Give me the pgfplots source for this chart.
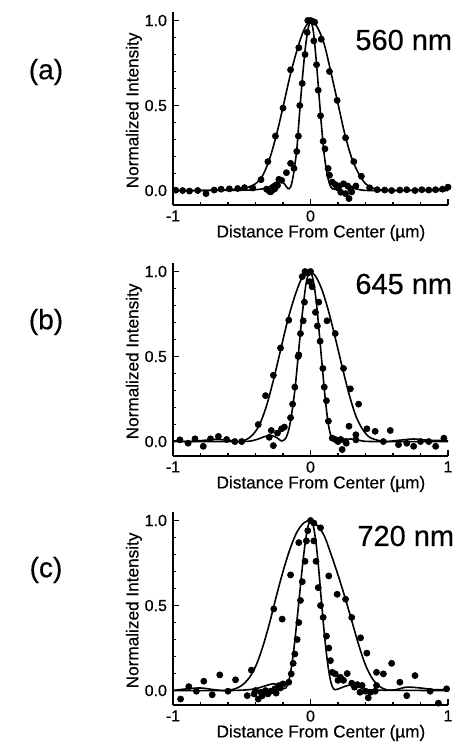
\documentclass[border=0pt]{standalone}
\usepackage{fontspec}
\setmainfont{Liberation Sans}[FakeBold=0.4]
\usepackage{pgfplots}
\pgfplotsset{compat=1.18}
\usepackage{pgfplotstable}

% panel (a) 560 nm
\pgfplotstableread{
x y
-1 0.0
-0.8 0.0
-0.6 0.004
-0.5 0.01
-0.45 0.02
-0.4 0.04
-0.35 0.085
-0.3 0.18
-0.25 0.32
-0.2 0.49
-0.15 0.67
-0.1 0.82
-0.05 0.94
0 1.0
0.05 0.96
0.1 0.86
0.15 0.69
0.2 0.51
0.25 0.33
0.3 0.19
0.35 0.10
0.4 0.04
0.45 0.015
0.5 0.005
0.6 0.0
0.8 0.004
1.0 0.01
}\wideA
\pgfplotstableread{
x y
-1 0.0
-0.5 0.002
-0.4 0.005
-0.35 0.01
-0.3 0.022
-0.26 0.045
-0.22 0.055
-0.19 0.04
-0.165 0.012
-0.145 0.02
-0.125 0.09
-0.1 0.24
-0.08 0.45
-0.06 0.65
-0.04 0.82
-0.02 0.94
0 0.995
0.02 0.94
0.04 0.78
0.06 0.58
0.08 0.38
0.1 0.21
0.12 0.10
0.14 0.035
0.16 0.01
0.19 0.012
0.23 0.03
0.27 0.03
0.31 0.015
0.36 0.005
0.45 0.0
1.0 0.0
}\narrowA
\pgfplotstableread{
x y
-0.98 0.002
-0.93 0.0
-0.88 -0.003
-0.82 0.0
-0.76 -0.018
-0.70 0.003
-0.65 0.008
-0.59 0.01
-0.53 0.012
-0.48 0.017
-0.42 0.015
-0.36 0.064
-0.31 0.17
-0.255 0.32
-0.20 0.485
-0.145 0.71
-0.085 0.84
-0.02 1.0
0.0 1.0
0.015 0.995
0.03 0.99
-0.024 0.93
-0.04 0.80
-0.06 0.63
-0.078 0.50
-0.088 0.32
-0.10 0.23
-0.12 0.13
-0.145 0.16
-0.175 0.105
-0.21 0.06
-0.23 0.066
-0.24 0.03
-0.27 0.02
-0.29 -0.008
-0.30 -0.004
-0.32 0.008
-0.28 0.0
-0.26 0.01
0.024 0.88
0.044 0.74
0.056 0.59
0.073 0.44
0.092 0.29
0.105 0.245
0.128 0.13
0.138 0.09
0.158 0.05
0.18 0.035
0.21 0.027
0.24 0.04
0.27 0.027
0.29 0.012
0.33 0.027
0.255 -0.018
0.28 -0.047
0.30 -0.008
0.20 0.015
0.22 -0.01
0.078 0.89
0.138 0.70
0.194 0.53
0.255 0.31
0.315 0.17
0.37 0.084
0.43 0.016
0.485 0.005
0.54 0.003
0.59 0.0
0.65 0.003
0.70 0.005
0.76 0.0
0.81 0.005
0.86 0.003
0.91 0.005
0.96 0.008
1.0 0.02
}\dotsA

% panel (b) 645 nm
\pgfplotstableread{
x y
-1 0.005
-0.9 0.0
-0.8 0.005
-0.7 0.012
-0.6 0.008
-0.52 0.0
-0.47 0.01
-0.42 0.04
-0.37 0.10
-0.32 0.21
-0.27 0.36
-0.22 0.53
-0.17 0.70
-0.12 0.84
-0.07 0.95
-0.02 1.0
0.03 0.98
0.08 0.90
0.13 0.77
0.18 0.61
0.23 0.44
0.28 0.28
0.33 0.15
0.38 0.07
0.43 0.025
0.5 0.005
0.55 0.0
0.65 0.008
0.75 0.015
0.85 0.008
1.0 0.005
}\wideB
\pgfplotstableread{
x y
-1 0.0
-0.5 0.0
-0.4 0.01
-0.33 0.03
-0.28 0.035
-0.24 0.02
-0.21 0.003
-0.18 0.02
-0.155 0.08
-0.13 0.2
-0.11 0.33
-0.09 0.5
-0.07 0.67
-0.05 0.82
-0.03 0.94
-0.01 0.99
0.01 0.98
0.03 0.90
0.05 0.76
0.07 0.58
0.09 0.40
0.11 0.23
0.13 0.10
0.15 0.03
0.17 0.008
0.2 0.005
0.25 0.012
0.3 0.015
0.35 0.008
0.45 0.0
1.0 0.0
}\narrowB
\pgfplotstableread{
x y
-0.95 0.01
-0.89 -0.01
-0.84 0.016
-0.78 -0.028
-0.727 0.016
-0.67 0.03
-0.61 0.012
-0.55 0.0
-0.50 0.0
-0.38 0.10
-0.327 0.27
-0.27 0.39
-0.218 0.55
-0.158 0.714
-0.04 1.0
-0.02 0.99
0.0 1.0
0.06 0.82
0.12 0.71
0.18 0.635
0.24 0.43
0.29 0.31
0.35 0.22
0.41 0.075
0.47 0.06
0.58 0.065
0.53 0.0
0.64 -0.018
0.70 -0.01
0.75 -0.028
0.80 0.0
0.86 0.0
0.91 -0.028
0.97 0.02
-0.06 0.97
-0.044 0.82
-0.053 0.71
-0.073 0.635
-0.085 0.51
-0.09 0.50
-0.114 0.32
-0.13 0.22
-0.145 0.14
-0.19 0.085
-0.21 0.075
-0.24 0.05
-0.285 0.065
-0.30 0.025
-0.27 -0.024
-0.005 0.94
0.012 0.91
0.036 0.76
0.05 0.68
0.07 0.59
0.09 0.43
0.10 0.32
0.116 0.24
0.13 0.12
0.158 0.02
0.18 0.012
0.20 0.0
0.22 0.012
0.255 0.0
0.28 0.09
0.33 0.04
0.33 0.01
0.23 -0.047
0.26 -0.01
}\dotsB

% panel (c) 720 nm
\pgfplotstableread{
x y
-1 0.0
-0.9 0.01
-0.8 0.015
-0.7 0.005
-0.62 0.0
-0.55 0.01
-0.5 0.03
-0.45 0.07
-0.4 0.14
-0.35 0.25
-0.3 0.39
-0.25 0.55
-0.2 0.70
-0.15 0.83
-0.1 0.93
-0.05 0.985
0.0 1.0
0.05 0.97
0.1 0.91
0.15 0.80
0.2 0.68
0.25 0.55
0.3 0.41
0.35 0.27
0.4 0.15
0.45 0.07
0.5 0.025
0.56 0.003
0.62 0.005
0.7 0.02
0.8 0.015
0.9 0.005
1.0 0.005
}\wideC
\pgfplotstableread{
x y
-1 0.0
-0.6 0.0
-0.45 0.005
-0.38 0.015
-0.32 0.03
-0.27 0.04
-0.23 0.03
-0.2 0.01
-0.18 0.015
-0.16 0.05
-0.14 0.13
-0.12 0.25
-0.1 0.40
-0.08 0.56
-0.06 0.72
-0.04 0.86
-0.02 0.96
0.0 1.0
0.02 0.97
0.04 0.87
0.06 0.71
0.08 0.52
0.1 0.34
0.12 0.19
0.14 0.08
0.16 0.02
0.18 0.005
0.22 0.015
0.27 0.03
0.32 0.03
0.37 0.015
0.45 0.003
1.0 0.0
}\narrowC
\pgfplotstableread{
x y
-0.945 -0.05
-0.885 0.023
-0.83 -0.004
-0.776 0.055
-0.715 -0.025
-0.66 0.092
-0.60 -0.004
-0.545 0.063
-0.46 -0.03
-0.43 0.12
-0.267 0.48
-0.206 0.42
-0.145 0.68
-0.085 0.87
0.0 1.0
0.024 0.985
0.073 0.957
0.133 0.674
0.194 0.566
0.255 0.537
0.30 0.43
0.364 0.31
0.41 0.22
0.48 0.107
0.53 0.098
0.59 0.16
0.65 0.049
0.70 -0.03
0.76 0.088
0.87 -0.004
0.93 -0.074
0.99 0.01
-0.02 0.94
-0.03 0.88
-0.04 0.76
-0.06 0.64
-0.073 0.53
-0.085 0.40
-0.097 0.30
-0.114 0.215
-0.126 0.16
-0.14 0.098
-0.158 0.049
-0.20 0.039
-0.23 0.029
-0.26 0.01
-0.29 -0.004
-0.327 0.0
-0.35 -0.03
-0.38 -0.05
-0.41 -0.02
-0.36 -0.01
-0.31 -0.02
-0.25 -0.015
-0.22 0.015
-0.40 0.0
0.024 0.88
0.04 0.76
0.056 0.605
0.073 0.50
0.092 0.43
0.116 0.32
0.133 0.25
0.145 0.176
0.158 0.107
0.18 0.098
0.218 0.078
0.267 0.10
0.30 0.043
0.34 0.035
0.375 0.03
0.40 -0.004
0.436 -0.01
0.42 -0.043
0.47 -0.004
0.48 0.03
0.32 0.02
0.36 -0.01
0.24 0.06
0.20 0.06
}\dotsC

\pgfplotsset{
  psf/.style={
    scale only axis, width=137.5pt, height=96.5pt,
    xmin=-1, xmax=1, ymin=-0.085, ymax=1.05,
    axis x line=bottom, axis y line=left,
    axis line style={-, line width=0.9pt},
    xtick={-1,0,1}, ytick={0,0.5,1}, yticklabels={0.0,0.5,1.0},
    minor x tick num=4, minor y tick num=4,
    tick align=inside, major tick length=3pt, minor tick length=1.5pt,
    tick style={line width=0.7pt, black},
    xticklabel style={font=\fontsize{8}{8}\selectfont, inner sep=0.5pt, yshift=-2pt},
    yticklabel style={font=\fontsize{8}{8}\selectfont, xshift=0.5pt},
    xlabel={Distance From Center (µm)}, ylabel={Normalized Intensity},
    every axis x label/.style={at={(axis description cs:0.538,-0.145)}, anchor=center,
      inner sep=0.5pt, font=\fontsize{8.6}{9}\selectfont},
    every axis y label/.style={at={(axis description cs:-0.142,0.49)}, rotate=90, anchor=center,
      font=\fontsize{8.6}{9}\selectfont},
    clip=false,
  },
  fit/.style={black, line width=0.8pt, smooth, tension=0.5, no markers},
  dots/.style={black, only marks, mark=*, mark size=1.5pt},
}

\begin{document}
\begin{tikzpicture}
\useasboundingbox (0,0) rectangle (232pt,372pt);

\begin{axis}[psf, at={(86.5pt,269.5pt)}, anchor=south west, xticklabels={-1,0,{}}]
  \addplot[fit] table {\wideA};
  \addplot[fit] table {\narrowA};
  \addplot[dots] table {\dotsA};
\end{axis}

\begin{axis}[psf, at={(86.5pt,144pt)}, anchor=south west, xticklabels={-1,0,1}]
  \addplot[fit] table {\wideB};
  \addplot[fit] table {\narrowB};
  \addplot[dots] table {\dotsB};
\end{axis}

\begin{axis}[psf, at={(86.5pt,19.5pt)}, anchor=south west, xticklabels={-1,0,1}]
  \addplot[fit] table {\wideC};
  \addplot[fit] table {\narrowC};
  \addplot[dots] table {\dotsC};
\end{axis}

\node[inner sep=0, font=\fontsize{14}{14}\selectfont] at (23pt,336pt) {(a)};
\node[inner sep=0, font=\fontsize{14}{14}\selectfont] at (23pt,211pt) {(b)};
\node[inner sep=0, font=\fontsize{14}{14}\selectfont] at (23pt,87pt) {(c)};
\node[inner sep=0, anchor=west, font=\fontsize{14.5}{15}\selectfont] at (177.5pt,352pt) {560 nm};
\node[inner sep=0, anchor=west, font=\fontsize{14.5}{15}\selectfont] at (177.5pt,230pt) {645 nm};
\node[inner sep=0, anchor=west, font=\fontsize{14.5}{15}\selectfont] at (178.5pt,104pt) {720 nm};
\end{tikzpicture}
\end{document}
